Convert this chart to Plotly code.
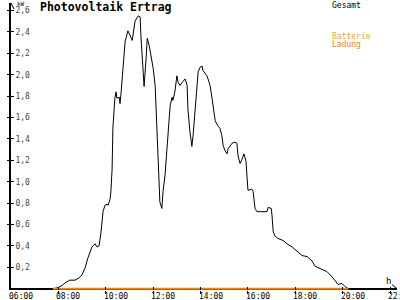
import plotly.graph_objects as go

# ---- data ----
times = ["07:46","07:59","08:09","08:19","08:29","08:42","08:52","09:00","09:07","09:15",
         "09:25","09:33","09:38","09:43","09:48","09:53","09:58","10:03","10:06","10:11",
         "10:13","10:16","10:18","10:23","10:26","10:28","10:34","10:36","10:39","10:41",
         "10:44","10:49","10:56","11:07","11:14","11:22","11:27","11:29","11:34","11:37",
         "11:42","11:45","11:50","11:57","12:00","12:05","12:07","12:10","12:12","12:17",
         "12:22","12:25","12:30","12:35","12:38","12:43","12:48","12:50","12:55","13:00",
         "13:03","13:08","13:16","13:21","13:26","13:28","13:33","13:38","13:41","13:46",
         "13:51","13:54","13:59","14:04","14:06","14:16","14:19","14:24","14:29","14:32",
         "14:37","14:44","14:49","14:54","14:57","15:02","15:07","15:10","15:20","15:27",
         "15:32","15:35","15:40","15:45","15:50","15:55","15:58","16:00","16:10","16:13",
         "16:18","16:23","16:31","16:48","16:51","16:59","17:01","17:04","17:09","17:16",
         "17:29","17:39","17:52","18:04","18:17","18:30","18:42","18:50","19:03","19:20",
         "19:33","19:41","19:48","19:58","20:06","20:14"]
gesamt = [0.00,0.01,0.03,0.06,0.08,0.08,0.10,0.13,0.19,0.29,
          0.39,0.42,0.39,0.40,0.53,0.72,0.78,0.79,0.78,0.84,
          0.91,1.12,1.50,1.78,1.84,1.78,1.79,1.73,1.84,1.96,
          2.08,2.31,2.41,2.32,2.50,2.55,2.54,2.36,2.08,1.89,
          2.15,2.34,2.27,2.12,2.06,1.90,1.71,1.50,1.21,0.81,
          0.75,0.91,1.06,1.31,1.52,1.71,1.79,1.76,1.84,1.99,
          1.93,1.90,1.94,1.96,1.90,1.68,1.47,1.33,1.43,1.68,
          1.96,2.03,2.07,2.08,2.04,1.99,1.96,1.90,1.78,1.68,
          1.57,1.52,1.50,1.43,1.34,1.29,1.26,1.31,1.36,1.37,
          1.36,1.24,1.17,1.21,1.26,1.19,1.06,0.92,0.93,0.91,
          0.75,0.72,0.72,0.72,0.76,0.75,0.68,0.53,0.49,0.47,
          0.45,0.42,0.39,0.35,0.31,0.30,0.26,0.21,0.19,0.16,
          0.11,0.07,0.04,0.05,0.02,0.00]
batterie_ladung = [0.0] * len(times)

x_tick_hours = [6, 8, 10, 12, 14, 16, 18, 20, 22]
x_tick_text = ["06:00", "08:00", "10:00", "12:00", "14:00", "16:00", "18:00", "20:00", "22:00"]
y_tick_vals = [0.2, 0.4, 0.6, 0.8, 1.0, 1.2, 1.4, 1.6, 1.8, 2.0, 2.2, 2.4, 2.6]
y_tick_text = [f"{v:.1f}".replace(".", ",") for v in y_tick_vals]


def to_hours(t):
    h, m = t.split(":")
    return int(h) + int(m) / 60.0


hours = [to_hours(t) for t in times]

FONT = "DejaVu Sans Mono"
X_RANGE = [6, 22.29]
Y_RANGE = [-0.012, 2.67]

fig = go.Figure()
fig.add_trace(go.Scatter(x=hours, y=gesamt, mode="lines", name="Gesamt",
                         line=dict(color="black", width=1), showlegend=False))
fig.add_trace(go.Scatter(x=hours, y=batterie_ladung, mode="lines", name="Batterie Ladung",
                         line=dict(color="#ff8000", width=2), showlegend=False))
# empty trace so the overlay axes (crossing tick halves) are drawn
fig.add_trace(go.Scatter(x=[], y=[], xaxis="x2", yaxis="y2", showlegend=False,
                         hoverinfo="skip"))

fig.update_layout(
    width=400, height=300,
    margin=dict(l=11, r=3, t=3, b=10, autoexpand=False),
    paper_bgcolor="white", plot_bgcolor="white",
    font=dict(family=FONT, size=8, color="black"),
    title=dict(text="<b>Photovoltaik Ertrag</b>", xref="container", yref="container",
               x=40 / 400, xanchor="left", y=1 - 7 / 300, yanchor="middle",
               font=dict(family=FONT, size=11.5, color="black")),
    xaxis=dict(range=X_RANGE, tickvals=x_tick_hours, showticklabels=False,
               showgrid=False, zeroline=False, showline=False, automargin=False,
               ticks="outside", ticklen=3, tickwidth=1, tickcolor="black",
               fixedrange=True),
    yaxis=dict(range=Y_RANGE, tickvals=y_tick_vals, ticktext=y_tick_text,
               showgrid=False, zeroline=True, zerolinecolor="black", zerolinewidth=2,
               showline=True, linecolor="black", linewidth=2, automargin=False,
               ticks="inside", ticklen=3, tickwidth=1, tickcolor="black",
               ticklabelposition="inside", fixedrange=True),
    xaxis2=dict(range=X_RANGE, overlaying="x", anchor="y", tickvals=x_tick_hours,
                showticklabels=False, showgrid=False, zeroline=False, showline=False,
                ticks="inside", ticklen=3, tickwidth=1, tickcolor="black"),
    yaxis2=dict(range=Y_RANGE, overlaying="y", anchor="x", tickvals=y_tick_vals,
                showticklabels=False, showgrid=False, zeroline=False, showline=False,
                ticks="outside", ticklen=3, tickwidth=1, tickcolor="black"),
)

# axis arrow heads (decoration)
fig.add_shape(type="path", xref="x", yref="y", xsizemode="pixel", ysizemode="pixel",
              xanchor=X_RANGE[1], yanchor=0, path="M -5 4 L 0 0 L -5 -4",
              line=dict(color="black", width=1))
fig.add_shape(type="path", xref="x", yref="y", xsizemode="pixel", ysizemode="pixel",
              xanchor=6, yanchor=Y_RANGE[1], path="M -3 -6 L 0 0 L 3 -6",
              line=dict(color="black", width=1))

L, W, T, H = 11, 386, 3, 287


def px(xp):
    return (xp - L) / W


def py(yp):
    return (T + H - yp) / H


# x tick labels (left-aligned just before each tick, as in the reference)
for hv, lab in zip(x_tick_hours, x_tick_text):
    fig.add_annotation(xref="x", yref="paper", x=hv, y=py(296), text=lab,
                       xanchor="left", yanchor="middle", xshift=-4, showarrow=False,
                       font=dict(size=8))

anns = [
    dict(text="kW", x=px(15), y=py(4), xanchor="left", yanchor="middle", font=dict(size=6)),
    dict(text="h", x=px(388), y=py(281), xanchor="center", yanchor="middle", font=dict(size=9)),
    dict(text="Gesamt", x=px(330), y=py(5), xanchor="left", yanchor="middle", font=dict(size=8)),
    dict(text="Batterie", x=px(330), y=py(36), xanchor="left", yanchor="middle",
         font=dict(size=8, color="#ffa500")),
    dict(text="Ladung", x=px(330), y=py(44), xanchor="left", yanchor="middle",
         font=dict(size=8, color="#ff8000")),
]
for a in anns:
    fig.add_annotation(xref="paper", yref="paper", showarrow=False, **a)

fig.write_html("out.html")
